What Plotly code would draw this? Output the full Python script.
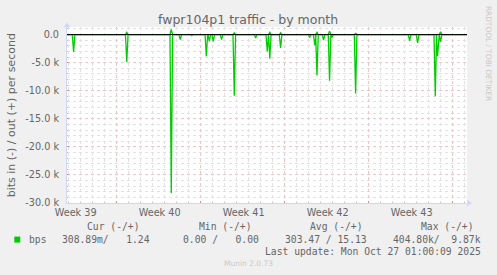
import plotly.graph_objects as go

# ---------------- data ----------------
# time axis: days since left edge of the month window
spike_days = [0.55, 4.98, 8.69, 9.44, 10.40, 11.61, 11.86, 12.19, 12.88, 13.94,
              15.72, 16.69, 16.90, 17.80, 20.22, 20.65, 20.83, 21.38, 21.88, 22.08,
              24.05, 28.55, 29.22, 30.69, 30.88, 31.13]
bits_in = [3100, 4900, 28200, 900, 200, 3850, 1200, 1200, 900, 10900,
           600, 3000, 4300, 2400, 500, 1900, 7300, 1000, 8200, 500,
           10500, 1100, 1500, 11000, 3800, 1300]
bits_out = [0, 400, 900, 0, 0, 0, 0, 0, 0, 300,
            0, 0, 400, 300, 0, 0, 400, 0, 600, 0,
            200, 0, 0, 0, 0, 500]

week_lines = [4.13, 11.13, 18.13, 25.13, 32.13]
week_label_pos = [0.72, 7.72, 14.72, 21.72, 28.72]
week_labels = ["Week 39", "Week 40", "Week 41", "Week 42", "Week 43"]

y_tickvals = [0, -5000, -10000, -15000, -20000, -25000, -30000]
y_ticktext = ["0.0", "-5.0 k", "-10.0 k", "-15.0 k", "-20.0 k", "-25.0 k", "-30.0 k"]

legend_headers = ["Cur (-/+)", "Min (-/+)", "Avg (-/+)", "Max (-/+)"]
legend_values = ["308.89m/   1.24", "0.00 /   0.00", "303.47 / 15.13", "404.80k/  9.87k"]
series_name = "bps"
last_update = "Last update: Mon Oct 27 01:00:09 2025"

X_RANGE = [0, 33.333]
Y_RANGE = [-30000, 1350]

# ---------------- layout constants ----------------
FW, FH = 497, 275
L, R, T, B = 66.7, 30.3, 26.7, 71.7
PW, PH = FW - L - R, FH - T - B
GREEN = "#00CC00"
FONT = "#666666"
SANS = "DejaVu Sans"
MONO = "DejaVu Sans Mono"
MAJ_GRID = "#F2C4C4"
MIN_GRID = "#E2E2E2"


def px(x):
    return (x - L) / PW


def py(y):
    return (FH - B - y) / PH


def build(days, vals, sign, w=1.3 / 12):
    xs, ys = [X_RANGE[0]], [0]
    for d, v in zip(days, vals):
        if v == 0:
            continue
        xs += [d - w, d, d + w]
        ys += [0, sign * v, 0]
    xs.append(X_RANGE[1])
    ys.append(0)
    return xs, ys


fig = go.Figure()
xi, yi = build(spike_days, bits_in, -1)
xo, yo = build(spike_days, bits_out, 1)
fig.add_trace(go.Scatter(x=xi, y=yi, mode="lines", line=dict(color=GREEN, width=1.3),
                         showlegend=False, hoverinfo="skip"))
fig.add_trace(go.Scatter(x=xo, y=yo, mode="lines", line=dict(color=GREEN, width=1.3),
                         showlegend=False, hoverinfo="skip"))

fig.update_layout(
    width=FW, height=FH,
    margin=dict(l=L, r=R, t=T, b=B, pad=0),
    paper_bgcolor="#F0F0F0", plot_bgcolor="#FFFFFF",
    font=dict(family=SANS, size=9.7, color=FONT),
    showlegend=False,
    xaxis=dict(range=X_RANGE, tickmode="array", tickvals=week_lines, ticktext=[""] * 5,
               showgrid=True, gridcolor=MAJ_GRID, griddash="dot", gridwidth=1,
               ticks="inside", ticklen=2, tickcolor="#E59090",
               minor=dict(tickmode="linear", tick0=week_lines[0], dtick=1, showgrid=True,
                          gridcolor=MIN_GRID, griddash="dot", gridwidth=1,
                          ticks="inside", ticklen=1, tickcolor="#C4C4C4"),
               showline=True, linecolor="#CFD6F8", linewidth=1, zeroline=False,
               fixedrange=True),
    xaxis2=dict(range=X_RANGE, overlaying="x", side="bottom", tickmode="array",
                tickvals=week_label_pos, ticktext=week_labels, showgrid=False,
                ticks="", showline=False, zeroline=False, ticklabelstandoff=2,
                tickfont=dict(family=SANS, size=9.7, color=FONT)),
    yaxis=dict(range=Y_RANGE, tickmode="array", tickvals=y_tickvals, ticktext=y_ticktext,
               showgrid=True, gridcolor=MAJ_GRID, griddash="dot", gridwidth=1,
               ticks="inside", ticklen=2, tickcolor="#E59090",
               minor=dict(tickmode="linear", tick0=0, dtick=1000, showgrid=True,
                          gridcolor=MIN_GRID, griddash="dot", gridwidth=1,
                          ticks="inside", ticklen=1, tickcolor="#C4C4C4"),
               showline=True, linecolor="#CFD6F8", linewidth=1, zeroline=False,
               ticklabelstandoff=5,
               tickfont=dict(family=SANS, size=9.7, color=FONT)),
)
# invisible trace to activate xaxis2
fig.add_trace(go.Scatter(x=[X_RANGE[0]], y=[0], xaxis="x2", mode="markers",
                         marker=dict(opacity=0), showlegend=False, hoverinfo="skip"))

shapes = []
# zero rule
shapes.append(dict(type="line", xref="x domain", yref="y", x0=0, x1=1, y0=0, y1=0,
                   line=dict(color="#000000", width=1), layer="above"))
# axis arrows
shapes.append(dict(type="path", xref="paper", yref="paper",
                   path=f"M {px(467)} {py(199.8)} L {px(471.5)} {py(203.3)} L {px(467)} {py(206.8)} Z",
                   fillcolor="#CFD6F8", line=dict(width=0)))
shapes.append(dict(type="path", xref="paper", yref="paper",
                   path=f"M {px(63.2)} {py(27)} L {px(66.7)} {py(22.5)} L {px(70.2)} {py(27)} Z",
                   fillcolor="#CFD6F8", line=dict(width=0)))
# legend swatch
shapes.append(dict(type="rect", xref="paper", yref="paper",
                   x0=px(14), x1=px(20), y0=py(243), y1=py(237),
                   fillcolor=GREEN, line=dict(width=0)))
fig.update_layout(shapes=shapes)

ann = []
ann.append(dict(text="fwpr104p1 traffic - by month", x=px(248), y=py(19), xref="paper", yref="paper",
                xanchor="center", yanchor="middle", showarrow=False,
                font=dict(family=SANS, size=12.5, color=FONT)))
ann.append(dict(text="bits in (-) / out (+) per second", x=px(11), y=py(115), xref="paper", yref="paper",
                xanchor="center", yanchor="middle", showarrow=False, textangle=-90,
                font=dict(family=SANS, size=11, color=FONT)))
ann.append(dict(text="RRDTOOL / TOBI OETIKER", x=px(488), y=py(53), xref="paper", yref="paper",
                xanchor="center", yanchor="middle", showarrow=False, textangle=90,
                font=dict(family=SANS, size=7.4, color="#C8C8C8")))
header_right = [141.7, 254, 365, 476]
value_right = [151.7, 260.7, 368.3, 482.7]
for t, xr in zip(legend_headers, header_right):
    ann.append(dict(text=t, x=px(xr), y=py(227.3), xref="paper", yref="paper",
                    xanchor="right", yanchor="middle", showarrow=False,
                    font=dict(family=MONO, size=9.7, color=FONT)))
for t, xr in zip(legend_values, value_right):
    ann.append(dict(text=t.replace(" ", "&nbsp;"), x=px(xr), y=py(240), xref="paper", yref="paper",
                    xanchor="right", yanchor="middle", showarrow=False,
                    font=dict(family=MONO, size=9.7, color=FONT)))
ann.append(dict(text=series_name, x=px(26.7), y=py(240), xref="paper", yref="paper",
                xanchor="left", yanchor="middle", showarrow=False,
                font=dict(family=MONO, size=9.7, color=FONT)))
ann.append(dict(text=last_update, x=px(482.7), y=py(251.7), xref="paper", yref="paper",
                xanchor="right", yanchor="middle", showarrow=False,
                font=dict(family=MONO, size=9.7, color=FONT)))
ann.append(dict(text="Munin 2.0.73", x=px(248), y=py(264), xref="paper", yref="paper",
                xanchor="center", yanchor="middle", showarrow=False,
                font=dict(family=SANS, size=7.5, color="#C8C8C8")))
fig.update_layout(annotations=ann)

fig.write_html("out.html")
